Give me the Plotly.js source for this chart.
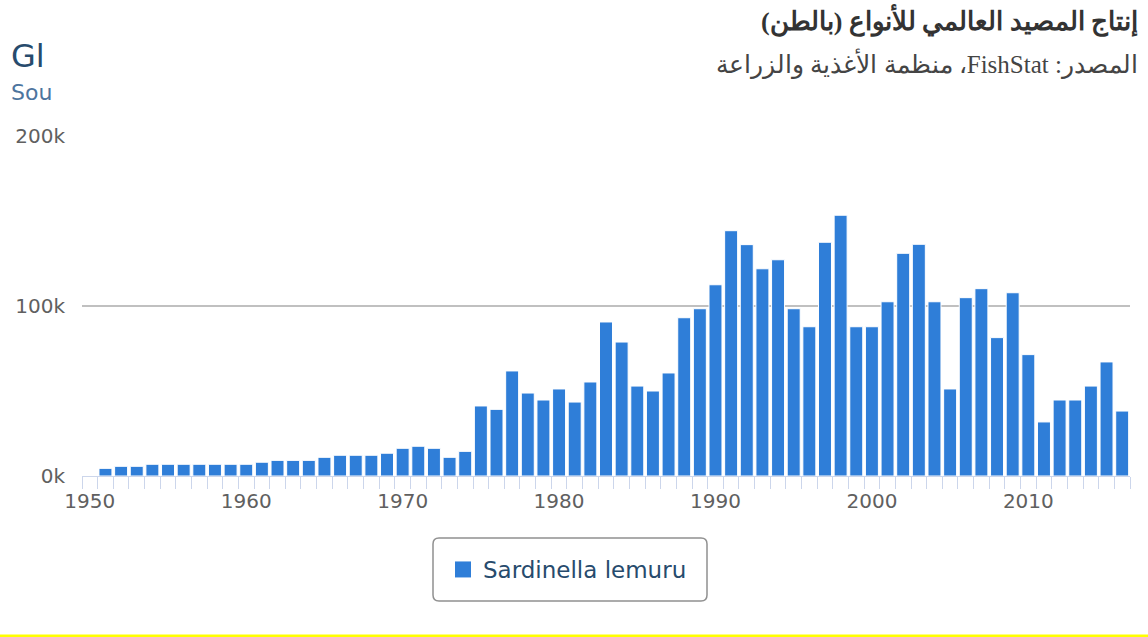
<!DOCTYPE html>
<html>
<head>
<meta charset="utf-8">
<script src="https://cdn.plot.ly/plotly-3.0.1.min.js"></script>
<style>html,body{margin:0;padding:0;background:#fff;}#chart{width:1148px;height:637px;}</style>
</head>
<body>
<div id="chart"></div>
<script>
const years = [1951,1952,1953,1954,1955,1956,1957,1958,1959,1960,
  1961,1962,1963,1964,1965,1966,1967,1968,1969,1970,
  1971,1972,1973,1974,1975,1976,1977,1978,1979,1980,
  1981,1982,1983,1984,1985,1986,1987,1988,1989,1990,
  1991,1992,1993,1994,1995,1996,1997,1998,1999,2000,
  2001,2002,2003,2004,2005,2006,2007,2008,2009,2010,
  2011,2012,2013,2014,2015,2016];
const production = [4500,5700,5700,6900,6900,6900,6900,6900,6900,6900,
  8100,9200,9200,9200,11000,12200,12200,12200,13400,16300,
  17500,16300,11000,14500,41200,39200,61800,48800,44700,51200,
  43500,55300,90600,78800,52900,50000,60600,93100,98400,112500,
  144300,136100,121900,127200,98400,87800,137500,153400,87800,87800,
  102500,131000,136300,102500,51200,104900,110200,81400,107800,71400,
  31800,44700,44700,52900,67100,38200];
const seriesName = 'Sardinella lemuru';
const yTickVals = [0, 100000, 200000];
const yTickText = ['0k', '100k', '200k'];
const xTickVals = [1950, 1960, 1970, 1980, 1990, 2000, 2010];
const titleAr = 'إنتاج المصيد العالمي للأنواع (بالطن)';
const subtitleAr = 'المصدر: FishStat، منظمة الأغذية والزراعة';
const titleEn = 'Gl';
const subtitleEn = 'Sou';

const L = 82, R = 1130, T = 136, B = 476;
const W = R - L, H = B - T;
const px = x => (x - L) / W;
const py = y => (B - y) / H;
const rtl = s => '\u202B' + s + '\u202C';

function roundRect(x0, y0, x1, y1, r) {
  const rx = r / W, ry = r / H;
  const a = px(x0), b = px(x1), top = py(y0), bot = py(y1);
  return `M${a+rx},${top} L${b-rx},${top} Q${b},${top} ${b},${top-ry} L${b},${bot+ry} Q${b},${bot} ${b-rx},${bot} L${a+rx},${bot} Q${a},${bot} ${a},${bot+ry} L${a},${top-ry} Q${a},${top} ${a+rx},${top} Z`;
}

const COLOR = '#2f7ed8';
const bars = {
  type: 'bar', x: years, y: production, name: seriesName,
  width: 0.83, legendgroup: 's',
  marker: {color: COLOR, line: {color: '#ffffff', width: 1}},
  showlegend: false
};
// legend entry for the same series (larger square key, as in the reference)
const legendKey = {
  type: 'scatter', mode: 'markers', x: [null], y: [null], name: seriesName,
  legendgroup: 's', showlegend: true,
  marker: {symbol: 'square', size: 17, color: COLOR}
};

const font = 'DejaVu Sans, Verdana, sans-serif';
const layout = {
  width: 1148, height: 637,
  margin: {l: L, r: 1148 - R, t: T, b: 637 - B, pad: 0},
  paper_bgcolor: '#ffffff', plot_bgcolor: '#ffffff',
  font: {family: font, color: '#606060', size: 20},
  xaxis: {
    range: [1949.5, 2016.5], tickmode: 'array', tickvals: xTickVals,
    ticks: '', showgrid: false, zeroline: false,
    showline: true, linecolor: '#ccd6eb', linewidth: 1,
    tickfont: {family: font, size: 20, color: '#606060'},
    ticklabelstandoff: 7,
    minor: {tickmode: 'linear', tick0: 1949.5, dtick: 1, ticks: 'outside', ticklen: 12, tickcolor: '#ccd6eb', tickwidth: 1, showgrid: false}
  },
  yaxis: {
    range: [0, 200000], tickmode: 'array', tickvals: yTickVals, ticktext: yTickText,
    showgrid: true, gridcolor: '#c0c0c0', gridwidth: 1.5, zeroline: false, showline: false,
    ticks: '', ticklabelstandoff: 16,
    tickfont: {family: font, size: 20, color: '#606060'}
  },
  showlegend: true,
  legend: {
    orientation: 'h', x: px(443), xanchor: 'left', y: py(569.5), yanchor: 'middle',
    font: {family: font, size: 23, color: '#274b6d'},
    bgcolor: 'rgba(0,0,0,0)', borderwidth: 0
  },
  shapes: [
    {type: 'path', xref: 'paper', yref: 'paper', path: roundRect(433, 538, 707, 601, 6),
     line: {color: '#909090', width: 1.5}, fillcolor: 'rgba(0,0,0,0)', layer: 'below'},
    {type: 'rect', xref: 'paper', yref: 'paper', x0: px(0), x1: px(1148), y0: py(634.5), y1: py(637),
     line: {width: 0}, fillcolor: '#ffff00'}
  ],
  annotations: [
    {text: titleEn, xref: 'paper', yref: 'paper', x: px(9), y: py(56), xanchor: 'left', yanchor: 'middle',
     showarrow: false, font: {family: font, size: 32, color: '#274b6d'}},
    {text: subtitleEn, xref: 'paper', yref: 'paper', x: px(9), y: py(92), xanchor: 'left', yanchor: 'middle',
     showarrow: false, font: {family: font, size: 22, color: '#4d759e'}},
    {text: '<b>' + rtl(titleAr) + '</b>', xref: 'paper', yref: 'paper', x: px(1140), y: py(20), xanchor: 'right', yanchor: 'middle',
     showarrow: false, font: {family: 'Liberation Serif, DejaVu Serif, serif', size: 26, color: '#333333'}},
    {text: rtl(subtitleAr), xref: 'paper', yref: 'paper', x: px(1140), y: py(64), xanchor: 'right', yanchor: 'middle',
     showarrow: false, font: {family: 'Liberation Serif, DejaVu Serif, serif', size: 25, color: '#444444'}}
  ]
};

Plotly.newPlot('chart', [bars, legendKey], layout, {displayModeBar: false, staticPlot: true});
</script>
</body>
</html>
